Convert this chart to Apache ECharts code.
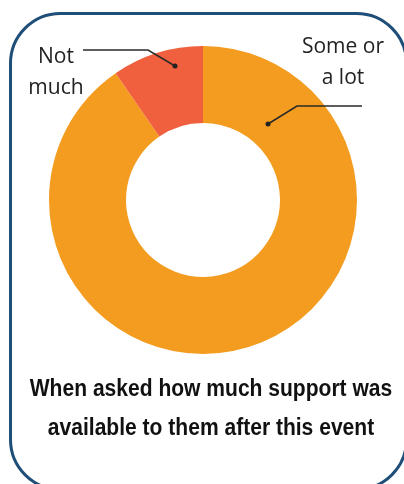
<!DOCTYPE html>
<html><head><meta charset="utf-8">
<script src="https://cdn.jsdelivr.net/npm/echarts@6/dist/echarts.min.js"></script>
<style>html,body{margin:0;padding:0;background:#fff}#c{width:404px;height:484px}</style>
</head><body><div id="c"></div>
<script>
const categories = ['Some or\na lot', 'Not\nmuch'];
const values = [90.4, 9.6];
const colors = ['#F39C1F', '#F0603E'];
const titleLines = ['When asked how much support was', 'available to them after this event'];

const chart = echarts.init(document.getElementById('c'), null, {renderer: 'canvas'});
// leader line annotation geometry (dot, elbow, end) and label position
const labelSpec = [
  {dot: [268, 124], elbow: [297, 106], end: [362, 106], lx: 343, ly: 63},
  {dot: [175, 66], elbow: [148, 50], end: [83, 50], lx: 56, ly: 73}
];
const leaderGraphics = [];
labelSpec.forEach(s => {
  leaderGraphics.push({type: 'polyline', shape: {points: [s.dot, s.elbow, s.end]},
    style: {stroke: '#2a2a2a', lineWidth: 1.5, fill: null}, z: 100});
  leaderGraphics.push({type: 'circle', shape: {cx: s.dot[0], cy: s.dot[1], r: 2.5},
    style: {fill: '#222'}, z: 101});
});
chart.setOption({
  animation: false,
  graphic: [
    {type: 'rect', shape: {x: 10.5, y: 13.5, width: 396, height: 476, r: 50},
     style: {fill: 'none', stroke: '#1F4E79', lineWidth: 3}, z: 0},
    ...leaderGraphics,
    {type: 'text', x: 211, y: 370, scaleX: 0.915,
     style: {text: titleLines.join('\n'), font: 'bold 23px "Liberation Sans", Arial, sans-serif',
             fill: '#111', textAlign: 'center', textVerticalAlign: 'top', lineHeight: 39}}
  ],
  series: [{
    type: 'pie',
    center: [203, 200],
    radius: [77, 154],
    startAngle: 90,
    clockwise: true,
    data: categories.map((c, i) => ({name: c, value: values[i], itemStyle: {color: colors[i]}})),
    label: {
      show: true, formatter: '{b}', color: '#222',
      fontFamily: '"Open Sans", "Liberation Sans", sans-serif', fontSize: 21, lineHeight: 31,
      align: 'center'
    },
    labelLine: {show: false},
    labelLayout: function (p) {
      const s = labelSpec[p.dataIndex];
      return {x: s.lx, y: s.ly, align: 'center', verticalAlign: 'middle'};
    }
  }]
});
</script></body></html>
